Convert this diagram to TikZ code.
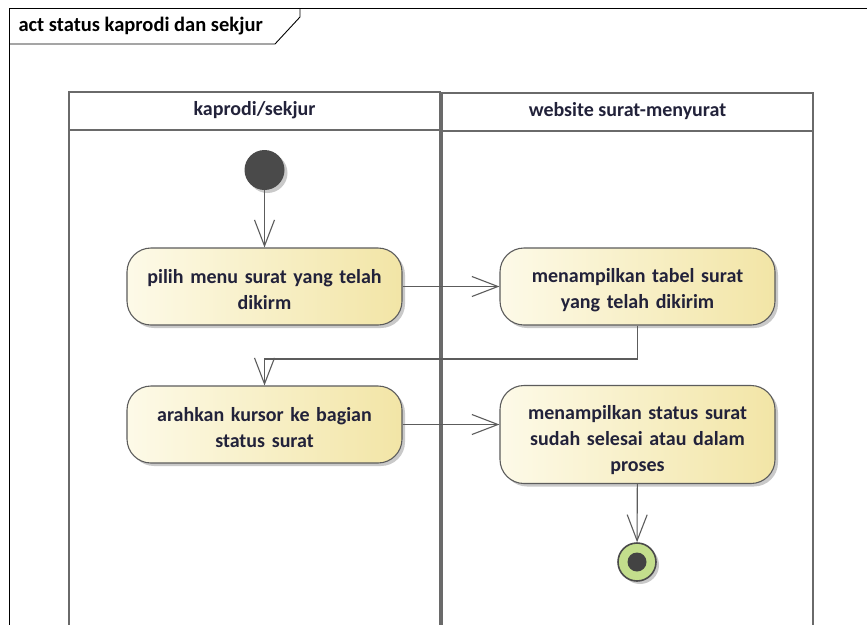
\documentclass[tikz,border=0pt]{standalone}
\usepackage{fontspec}
\setmainfont{Carlito}
\usetikzlibrary{arrows.meta,shadows,positioning}
\definecolor{txt}{HTML}{22223A}
\definecolor{edge}{HTML}{5C5C5C}
\definecolor{lanecol}{HTML}{6A6A6A}
\definecolor{actL}{HTML}{FDFAE8}
\definecolor{actR}{HTML}{F2E5A6}
\definecolor{startfill}{HTML}{4A4A4A}
\definecolor{finalfill}{HTML}{C3DE8C}
% a strut that lowers the text block a little inside an action
\newcommand{\lowtext}{\rule{0pt}{21pt}}
\tikzset{
  x=1pt, y=-1pt,
  every node/.style={font=\bfseries\fontsize{20}{26}\selectfont, text=txt},
  action/.style={draw=edge, line width=1.1pt, rounded corners=24pt,
    left color=actL, right color=actR, align=center,
    minimum width=275pt, minimum height=77pt, text width=260pt,
    drop shadow={shadow xshift=3pt, shadow yshift=-3pt, fill=black!35, opacity=0.6}},
  startnode/.style={circle, fill=startfill, minimum size=40pt, inner sep=0pt,
    drop shadow={shadow xshift=3pt, shadow yshift=-3pt, fill=black!35, opacity=0.6}},
  finalnode/.style={circle, draw=startfill, line width=1.6pt, fill=finalfill,
    minimum size=38pt, inner sep=0pt,
    drop shadow={shadow xshift=3pt, shadow yshift=-3pt, fill=black!35, opacity=0.6}},
  finaldot/.style={circle, fill=startfill!90!black, minimum size=19pt, inner sep=0pt},
  lane/.style={draw=lanecol, line width=1.6pt},
  flow/.style={draw=edge, line width=1.1pt,
    -{Straight Barb[length=26pt, width=20pt, line width=1.1pt]}},
}
\begin{document}
\begin{tikzpicture}
\useasboundingbox (0,0) rectangle (867,624);
\fill[white] (0,0) rectangle (867,624);
\begin{scope}
\clip (0,0) rectangle (867,624);
% diagram frame and its name tab
\draw[black, line width=0.9pt] (9,640) -- (9,8) -- (880,8);
\draw[black, line width=0.9pt] (9,44) -- (275,44) -- (300,17) -- (300,8);
\node[anchor=west, font=\bfseries\fontsize{20.5}{24}\selectfont, text=black] (title) at (15,26) {act status kaprodi dan sekjur};
% swimlanes
\draw[lane] (69,640) -- (69,92) -- (440,92) -- (440,640);
\draw[lane] (69,130) -- (440,130);
\draw[lane] (442,640) -- (442,93) -- (813,93) -- (813,640);
\draw[lane] (442,131) -- (813,131);
\end{scope}
\node (laneA) at (254.5,110) {kaprodi/sekjur};
\node (laneB) at (627.5,111) {website surat-menyurat};
% activity nodes
\node[startnode] (start) at (264.5,170) {};
\node[action] (act1) at (264.5,286.5) {\lowtext pilih menu surat yang telah\\dikirm};
\node[action] (act2) at (637.5,286.5) {\lowtext menampilkan tabel surat\\yang telah dikirim};
\node[action] (act3) at (264.5,424.5) {\lowtext arahkan kursor ke bagian\\status surat};
\node[action, minimum height=98pt] (act4) at (637.5,434.5) {\rule{0pt}{25pt}menampilkan status surat\\sudah selesai atau dalam\\proses};
\node[finalnode] (final) at (637,562) {};
\node[finaldot] (finalin) at (final.center) {};
% control flows
\coordinate (bend) at (264.5,359);
\draw[flow] (start) -- (act1);
\draw[flow] (act1) -- (act2);
\draw[flow] (act2.south) |- (bend) -- (act3.north);
\draw[flow] (act3) -- (act4.west |- act3.east);
\draw[flow] (act4) -- (final);
\end{tikzpicture}
\end{document}
